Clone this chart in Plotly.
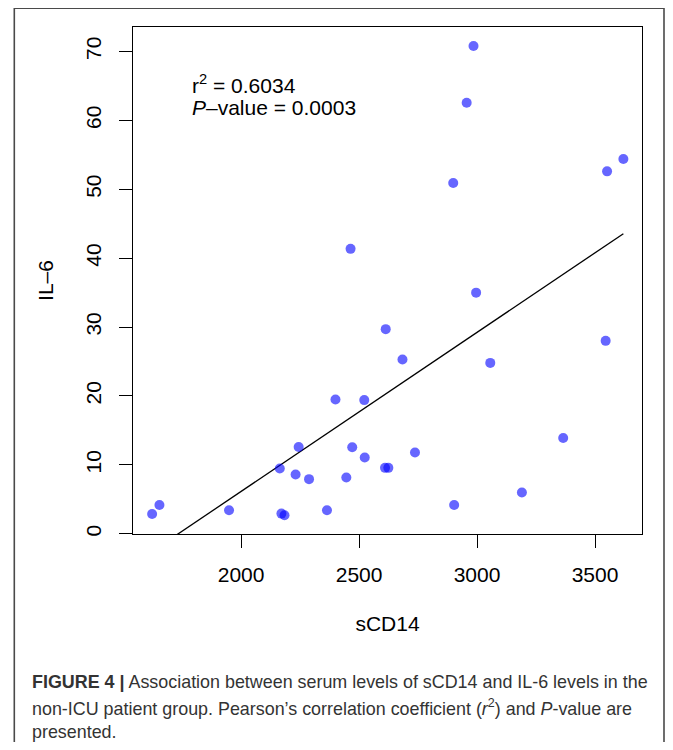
import numpy as np
import plotly.graph_objects as go

# ---- data ----
scd14 = [2985, 2956, 2899, 3551, 3620, 2464, 2996, 2613, 3545, 2684, 3056,
         2400, 2522, 3365, 2244, 2471, 2737, 2524, 2164, 2610, 2624, 2231,
         2288, 2446, 1654, 1623, 1949, 2171, 2184, 2364, 2903, 3190]
il6 = [70.8, 62.55, 50.9, 52.6, 54.4, 41.35, 35.0, 29.7, 28.0, 25.3, 24.8,
       19.5, 19.4, 13.9, 12.6, 12.55, 11.8, 11.06, 9.47, 9.57, 9.57, 8.6,
       7.93, 8.17, 4.18, 2.88, 3.41, 2.93, 2.69, 3.41, 4.18, 6.0]
x_ticks = [2000, 2500, 3000, 3500]
y_ticks = [0, 10, 20, 30, 40, 50, 60, 70]
stats_lines = ["r<sup>2</sup> = 0.6034", "<i>P</i>–value = 0.0003"]
caption_lines = [
    "<b>FIGURE 4 |</b> Association between serum levels of sCD14 and IL-6 levels in the",
    "non-ICU patient group. Pearson’s correlation coefficient (<i>r</i><sup>2</sup>) and <i>P</i>-value are",
    "presented.",
]

# page body has an 8px margin, so the figure is offset by 8px
OFF = 8
W, H = 673 - OFF, 750 - 2 * OFF
ML, MT = 125, 19
PW, PH = 509, 507
MR, MB = W - ML - PW, H - MT - PH


def px_x(px):
    return (px - OFF - ML) / PW


def px_y(py):
    return (H - MB - (py - OFF)) / PH


FONT = "Liberation Sans, Arial, Helvetica, sans-serif"

# linear fit through the data
slope, intercept = np.polyfit(scd14, il6, 1)
x_fit = np.array([min(scd14), max(scd14)])
y_fit = slope * x_fit + intercept

fig = go.Figure()
fig.add_trace(go.Scatter(
    x=x_fit, y=y_fit, mode="lines",
    line=dict(color="black", width=1.3), showlegend=False, hoverinfo="skip"))
fig.add_trace(go.Scatter(
    x=scd14, y=il6, mode="markers",
    marker=dict(size=10, color="rgba(0,0,255,0.6)", line=dict(width=0)),
    showlegend=False))

axis_common = dict(
    showline=True, linecolor="black", linewidth=1.3, mirror=True,
    ticks="outside", ticklen=13, tickwidth=1.3, tickcolor="black",
    showgrid=False, zeroline=False,
    tickfont=dict(family=FONT, size=21, color="black"),
)

fig.update_layout(
    width=W, height=H,
    margin=dict(l=ML, r=MR, t=MT, b=MB, autoexpand=False),
    paper_bgcolor="white", plot_bgcolor="white",
    font=dict(family=FONT, color="black"),
    xaxis=dict(range=[1542, 3699], tickvals=x_ticks, ticklabelstandoff=9,
               title=dict(text="sCD14", font=dict(family=FONT, size=21, color="black"),
                          standoff=30),
               **axis_common),
    yaxis=dict(range=[-0.03, 73.55], tickvals=y_ticks, tickangle=-90,
               ticklabelstandoff=9,
               title=dict(text="IL–6", font=dict(family=FONT, size=21, color="black"),
                          standoff=23),
               **axis_common),
)

# stats text inside the plot
for txt, cy in zip(stats_lines, [84, 107]):
    fig.add_annotation(text=txt, xref="paper", yref="paper",
                       x=px_x(190), y=px_y(cy), xanchor="left", yanchor="middle",
                       showarrow=False, font=dict(family=FONT, size=21, color="black"))

# caption lines
for txt, cy in zip(caption_lines, [682, 707, 732]):
    fig.add_annotation(text=txt, xref="paper", yref="paper",
                       x=px_x(30), y=px_y(cy), xanchor="left", yanchor="middle",
                       showarrow=False, font=dict(family=FONT, size=17.9, color="#333333"))

# outer figure frame
fig.add_shape(type="rect", xref="paper", yref="paper",
              x0=px_x(14.3), x1=px_x(664), y0=px_y(790), y1=px_y(8.3),
              line=dict(color="#4a4a4a", width=1.6), fillcolor="rgba(0,0,0,0)",
              layer="below")

fig.write_html("out.html")
